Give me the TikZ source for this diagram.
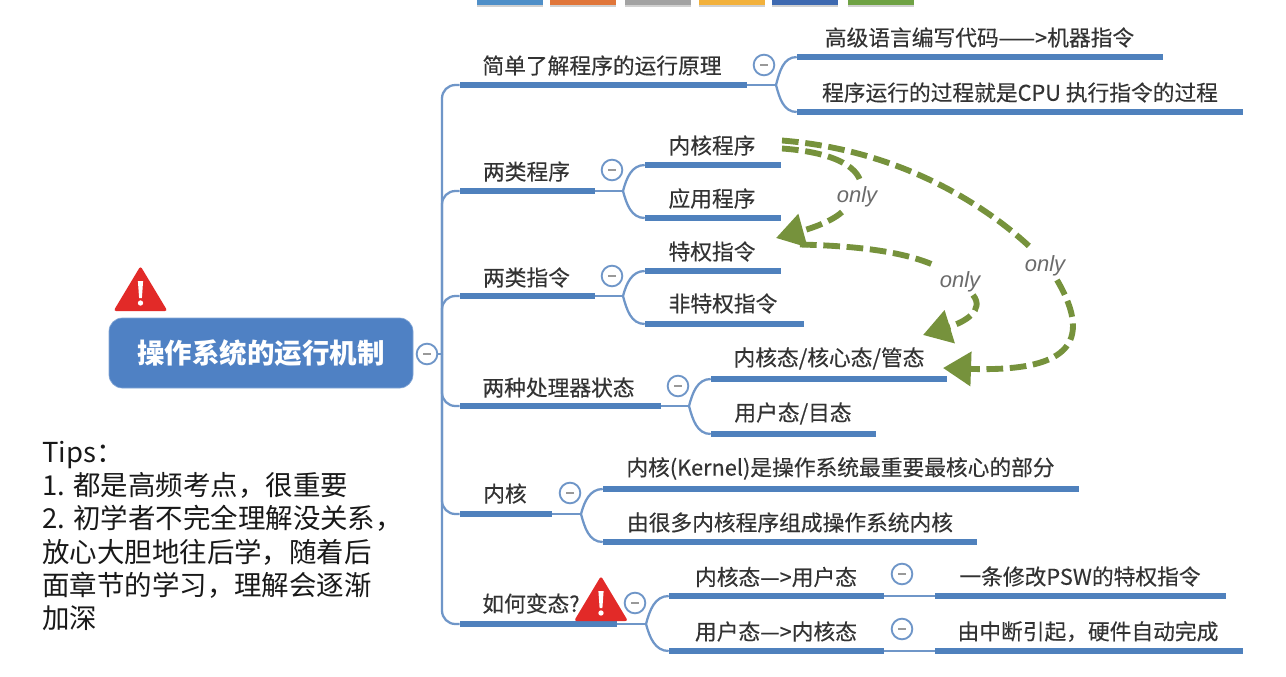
\documentclass[tikz,border=0pt]{standalone}
\usepackage{fontspec}
\setmainfont{Noto Sans CJK SC}
\newfontfamily\lblfont[FakeBold=0.25]{Noto Sans CJK SC}
\newfontfamily\onlyfont{Liberation Sans}
\usetikzlibrary{arrows.meta,calc}
\definecolor{barblue}{HTML}{4F81BD}
\definecolor{linkblue}{HTML}{6F96C8}
\definecolor{rootblue}{HTML}{4F81C4}
\definecolor{olive}{HTML}{76923C}
\definecolor{txt}{HTML}{333333}
\definecolor{warnred}{HTML}{E22A28}
\tikzset{
  barnode/.style={rectangle,fill=barblue,inner sep=0pt,minimum height=4.2pt},
  lbl/.style={text=txt,font=\lblfont\fontsize{16.3pt}{18pt}\selectfont,inner sep=0pt},
  toggle/.style={circle,draw=linkblue,line width=1.4pt,fill=white,minimum size=15.5pt,inner sep=0pt,
    path picture={\fill[black!40] ($(path picture bounding box.center)+(-3.2pt,-.5pt)$) rectangle ($(path picture bounding box.center)+(3.2pt,.5pt)$);}},
  link/.style={draw=linkblue,line width=1.7pt},
  flow/.style={draw=olive,line width=4.4pt,dash pattern=on 12.5pt off 5pt},
  flowtip/.style={-{Triangle[length=21pt,width=25pt,fill=olive,color=olive]}},
  onlylbl/.style={text=black!58,font=\onlyfont\itshape\fontsize{16.5pt}{18pt}\selectfont,inner sep=1pt},
  rootnode/.style={rectangle,rounded corners=10pt,fill=rootblue,draw=rootblue!70,line width=.5pt,text=white,
    font=\bfseries\fontsize{20.6pt}{24pt}\selectfont,minimum width=228pt,minimum height=52.5pt,inner sep=0pt},
  warnshape/.style={fill=warnred,draw=warnred,line width=2pt,line join=round},
  topbar/.style={inner sep=0pt}
}
\newcommand{\tbar}[4]{\node[barnode,minimum width={(#3-#2)*0.75pt}] (#1) at ({(#2+#3)/2},#4) {};}
\newcommand{\warnsign}[2]{%
  \fill[warnred,rounded corners=2pt] (#1,#2) -- (#1+27,#2+45) -- (#1-27,#2+45) -- cycle;
  \fill[white] (#1-2.6,#2+15) -- (#1+2.6,#2+15) -- (#1+1.4,#2+32) -- (#1-1.4,#2+32) -- cycle;
  \fill[white] (#1,#2+37) circle (2pt);}
\begin{document}
\begin{tikzpicture}[x=0.75pt,y=-0.75pt]
\useasboundingbox (0,0) rectangle (1286,676);
\fill[white] (0,0) rectangle (1286,676);
% top strip
\foreach \a/\b/\c in {477/543/4F8FC8,550/616/E0763A,625/691/A3A3A3,699/765/F2B13C,772/838/3E69B0,848/914/6FA244}{
  \definecolor{tmpc}{HTML}{\c}
  \fill[black!18] (\a,0) rectangle (\b,7);
  \fill[tmpc] (\a,0) rectangle (\b,4.5);
}
% root
\node[rootnode] (root) at (261,353) {操作系统的运行机制};
\node[toggle] (rootT) at (427,354) {};
\coordinate (spine) at (442,354);
\warnsign{140.5}{266}
% bars
\tbar{b1}{460}{747}{85}
\tbar{b2}{460}{595}{191}
\tbar{b3}{460}{595}{296}
\tbar{b4}{460}{661}{406}
\tbar{b5}{460}{552}{514}
\tbar{b6}{460}{617}{624}
\tbar{c11}{797}{1163}{57}
\tbar{c12}{797}{1243}{112}
\tbar{c21}{645}{781}{165}
\tbar{c22}{645}{781}{218}
\tbar{c31}{645}{781}{271}
\tbar{c32}{645}{804}{324}
\tbar{c41}{711}{947}{379}
\tbar{c42}{711}{876}{434}
\tbar{c51}{603}{1079}{489}
\tbar{c52}{603}{977}{542}
\tbar{c61}{669}{884}{596}
\tbar{c62}{669}{884}{651}
\tbar{d61}{935}{1226}{596}
\tbar{d62}{935}{1243}{651}
% spine links
\draw[link] (rootT.east) -- (spine);
\foreach \n in {b1,b2,b3,b4,b5,b6}{\draw[link,rounded corners=10pt] (spine) |- (\n.west);}
% junctions
\coordinate (j1) at (776,85);
\coordinate (j2) at (623,191);
\coordinate (j3) at (623,296);
\coordinate (j4) at (689,406);
\coordinate (j5) at (581,514);
\coordinate (j6) at (646,624);
\foreach \p/\j in {b1/j1,b2/j2,b3/j3,b4/j4,b5/j5,b6/j6}{\draw[link] (\p.east) -- (\j);}
\draw[link] (j1) to[out=75,in=180] (c11.west);
\draw[link] (j1) to[out=-75,in=180] (c12.west);
\draw[link] (j2) to[out=75,in=180] (c21.west);
\draw[link] (j2) to[out=-75,in=180] (c22.west);
\draw[link] (j3) to[out=75,in=180] (c31.west);
\draw[link] (j3) to[out=-75,in=180] (c32.west);
\draw[link] (j4) to[out=75,in=180] (c41.west);
\draw[link] (j4) to[out=-75,in=180] (c42.west);
\draw[link] (j5) to[out=75,in=180] (c51.west);
\draw[link] (j5) to[out=-75,in=180] (c52.west);
\draw[link] (j6) to[out=75,in=180] (c61.west);
\draw[link] (j6) to[out=-75,in=180] (c62.west);
\draw[link] (c61.east) -- (d61.west);
\draw[link] (c62.east) -- (d62.west);
% toggles
\node[toggle] (t1) at (764,65) {};
\node[toggle] (t2) at (612,170) {};
\node[toggle] (t3) at (612,276) {};
\node[toggle] (t4) at (678,386) {};
\node[toggle] (t5) at (570,493) {};
\node[toggle] (t6) at (635,603) {};
\node[toggle] (t61) at (902,574) {};
\node[toggle] (t62) at (902,629) {};
% labels
\node[lbl] (l1) at (602,65.5) {简单了解程序的运行原理};
\node[lbl] (l2) at (526.5,171.5) {两类程序};
\node[lbl] (l3) at (526.5,277.5) {两类指令};
\node[lbl] (l4) at (558.5,387.5) {两种处理器状态};
\node[lbl] (l5) at (505,493.5) {内核};
\node[lbl] (l6) at (531,603.5) {如何变态?};
\node[lbl] (m11) at (979.5,37.5) {高级语言编写代码——>机器指令};
\node[lbl] (m12) at (1020,92.5) {程序运行的过程就是CPU 执行指令的过程};
\node[lbl] (m21) at (712,145.5) {内核程序};
\node[lbl] (m22) at (712,198.5) {应用程序};
\node[lbl] (m31) at (712,251.5) {特权指令};
\node[lbl] (m32) at (723,303.5) {非特权指令};
\node[lbl] (m41) at (829,358.5) {内核态/核心态/管态};
\node[lbl] (m42) at (793,413.5) {用户态/目态};
\node[lbl] (m51) at (840.5,468.5) {内核(Kernel)是操作系统最重要最核心的部分};
\node[lbl] (m52) at (790,522.5) {由很多内核程序组成操作系统内核};
\node[lbl] (m61) at (776,577) {内核态—>用户态};
\node[lbl] (m62) at (776,631.5) {用户态—>内核态};
\node[lbl] (n61) at (1080,576.5) {一条修改PSW的特权指令};
\node[lbl] (n62) at (1088,631.5) {由中断引起，硬件自动完成};
\warnsign{601}{576}
% tips
\node[anchor=north west,align=left,inner sep=0pt,text=black!90,font=\fontsize{20.6pt}{24.9pt}\selectfont] (tips) at (42,441)
 {Tips：\\1. 都是高频考点，很重要\\2. 初学者不完全理解没关系，\\放心大胆地往后学，随着后\\面章节的学习，理解会逐渐\\加深};
% only labels
\node[onlylbl] (o1) at (857,197) {only};
\node[onlylbl] (o2) at (1045,266) {only};
\node[onlylbl] (o3) at (960,282) {only};
\coordinate (sA) at (782,148.5);
\coordinate (sB) at (782,140.5);
\coordinate (sC) at (800,244.5);
\coordinate (eA) at (776,238);
\coordinate (eB) at (943,368);
\coordinate (eC) at (923,335);
% dashed flows
\draw[flow] (sA) .. controls (830,152) and (858,165) .. (861,184);
\draw[flow,flowtip] (842,212) .. controls (830,223) and (805,230) .. (eA);
\draw[flow] (sB) .. controls (900,150) and (985,205) .. (1030,247);
\draw[flow,flowtip] (1057,280) .. controls (1095,345) and (1065,372) .. (eB);
\draw[flow] (sC) .. controls (860,246) and (905,252) .. (936,266);
\draw[flow,flowtip] (973,295) .. controls (985,310) and (965,322) .. (eC);
\end{tikzpicture}
\end{document}
